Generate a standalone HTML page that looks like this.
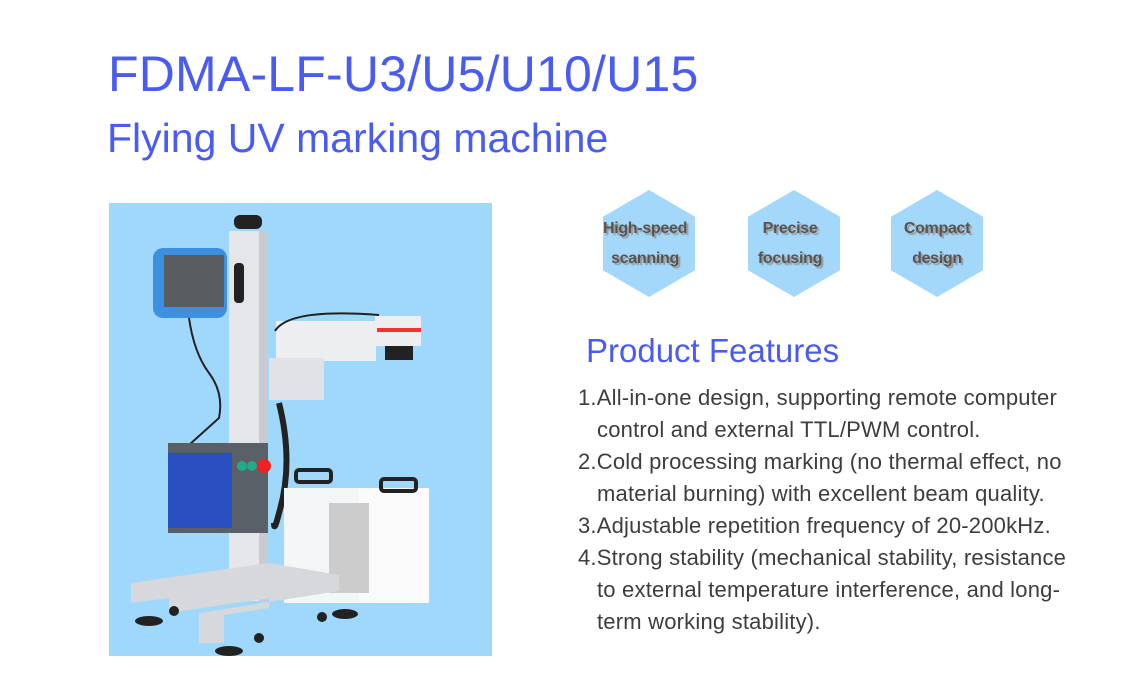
<!DOCTYPE html>
<html><head><meta charset="utf-8"><style>
body{margin:0;width:1130px;height:700px;background:#fff;position:relative;overflow:hidden;font-family:"Liberation Sans",Arial,sans-serif}
.a{position:absolute;white-space:nowrap}
.t1{left:108px;top:45px;font-size:50px;color:#4a5cf0;letter-spacing:0.2px}
.t2{left:107px;top:115px;font-size:41px;color:#4a5cf0}
.t3{left:586px;top:332px;font-size:33px;color:#4a5cf0}
.f{left:578px;font-size:22px;letter-spacing:0.2px;color:#3d3d3d;line-height:32px}
.f span{display:inline-block;width:19px}
.hex{position:absolute;width:92px;height:107px;background:#a3d8fb;clip-path:polygon(50% 0,100% 25%,100% 75%,50% 100%,0 75%,0 25%)}
.hl{position:absolute;width:120px;text-align:center;font-size:16px;font-weight:bold;color:#555;line-height:30px;text-shadow:2px 2px 1px #999;letter-spacing:-0.3px}
</style></head><body>
<div class="a t1">FDMA-LF-U3/U5/U10/U15</div>
<div class="a t2">Flying UV marking machine</div>

<div class="hex" style="left:603px;top:190px"></div>
<div class="hex" style="left:748px;top:190px"></div>
<div class="hex" style="left:891px;top:190px"></div>
<div class="hl" style="left:585px;top:214px">High-speed<br>scanning</div>
<div class="hl" style="left:730px;top:214px">Precise<br>focusing</div>
<div class="hl" style="left:877px;top:214px">Compact<br>design</div>

<div class="a t3">Product Features</div>
<div class="a f" style="top:382px">1.All-in-one design, supporting remote computer<br><span></span>control and external TTL/PWM control.<br>2.Cold processing marking (no thermal effect, no<br><span></span>material burning) with excellent beam quality.<br>3.Adjustable repetition frequency of 20-200kHz.<br>4.Strong stability (mechanical stability, resistance<br><span></span>to external temperature interference, and long-<br><span></span>term working stability).</div>

<svg class="a" style="left:109px;top:203px" width="383" height="453" viewBox="0 0 383 453">
<rect width="383" height="453" fill="#a0d8fb"/>
<rect x="120" y="28" width="38" height="370" fill="#e4e6ea"/>
<rect x="150" y="28" width="8" height="370" fill="#c8ccd2"/>
<rect x="125" y="12" width="28" height="14" rx="6" fill="#222"/>
<rect x="44" y="45" width="74" height="70" rx="10" fill="#3d8fe0"/>
<rect x="55" y="52" width="60" height="52" fill="#5a5d60"/>
<rect x="125" y="60" width="10" height="40" rx="4" fill="#222"/>
<path d="M80 115 Q85 150 100 170 Q115 190 110 215 L60 260" stroke="#222" stroke-width="2" fill="none"/>
<rect x="167" y="118" width="100" height="40" fill="#eceef0"/>
<rect x="160" y="155" width="55" height="42" fill="#e0e2e6"/>
<rect x="266" y="113" width="46" height="30" fill="#eceef0"/>
<rect x="268" y="125" width="44" height="4" fill="#e33"/>
<rect x="276" y="143" width="28" height="14" fill="#222"/>
<path d="M166 128 Q180 105 270 112" stroke="#222" stroke-width="2" fill="none"/>
<path d="M170 200 Q185 260 170 310 Q165 330 165 320" stroke="#222" stroke-width="6" fill="none"/>
<rect x="59" y="240" width="100" height="90" fill="#5a6068"/>
<rect x="59" y="250" width="64" height="75" fill="#2a50c0"/>
<circle cx="133" cy="263" r="5" fill="#2a8"/><circle cx="143" cy="263" r="5" fill="#2a8"/><circle cx="155" cy="263" r="7" fill="#e22"/>
<rect x="175" y="285" width="145" height="115" fill="#f4f5f6"/>
<rect x="250" y="285" width="70" height="115" fill="#fafafa"/>
<rect x="220" y="300" width="40" height="90" fill="#ccc"/>
<rect x="187" y="267" width="35" height="12" rx="3" fill="none" stroke="#222" stroke-width="4"/>
<rect x="272" y="276" width="35" height="12" rx="3" fill="none" stroke="#222" stroke-width="4"/>
<polygon points="22,380 160,360 230,372 230,388 90,410 90,440 115,440 115,412 160,405 160,395 60,410 60,395 22,400" fill="#d6d8dc"/>
<ellipse cx="40" cy="418" rx="14" ry="5" fill="#222"/>
<ellipse cx="120" cy="448" rx="14" ry="5" fill="#222"/>
<ellipse cx="236" cy="411" rx="13" ry="5" fill="#222"/>
<circle cx="65" cy="408" r="5" fill="#222"/><circle cx="150" cy="435" r="5" fill="#222"/><circle cx="213" cy="414" r="5" fill="#222"/>
</svg>
</body></html>
